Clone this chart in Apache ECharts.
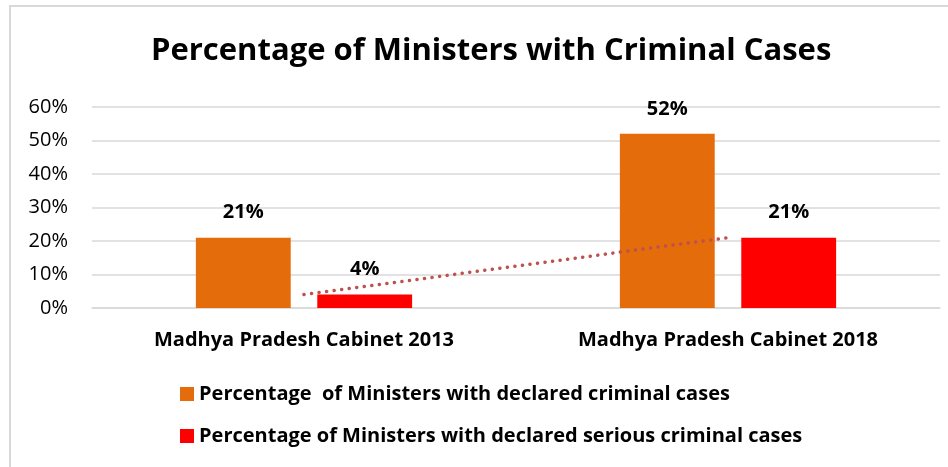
<!DOCTYPE html>
<html>
<head>
<meta charset="utf-8">
<script src="https://cdn.jsdelivr.net/npm/echarts@6/dist/echarts.min.js"></script>
<style>
  html, body { margin: 0; padding: 0; background: #fff; }
  .wrap { width: 948px; height: 467px; overflow: hidden; }
  #chart { box-sizing: border-box; border-left: 2px solid #d9d9d9; border-top: 2px solid #d9d9d9; margin-left: 9px; margin-top: 5px; }
</style>
</head>
<body>
<div class="wrap"><div id="chart" style="width:939px;height:462px"></div></div>
<script>
const categories = ['Madhya Pradesh Cabinet 2013', 'Madhya Pradesh Cabinet 2018']
const declaredCases = [21, 52]
const seriousCases = [4, 21]
const yTicks = [0, 10, 20, 30, 40, 50, 60]

const declaredName = 'Percentage  of Ministers with declared criminal cases'
const seriousName = 'Percentage of Ministers with declared serious criminal cases'
const fontFamily = '"Open Sans", Lato, sans-serif'

const chart = echarts.init(document.getElementById('chart'))

const labelStyle = {
  show: true,
  position: 'top',
  distance: 15,
  formatter: '{c}%',
  color: '#000',
  fontWeight: 'bold',
  fontSize: 20,
  fontFamily,
}

chart.setOption({
  animation: false,
  textStyle: { fontFamily },
  title: {
    text: 'Percentage of Ministers with Criminal Cases',
    left: 135,
    top: 24,
    textStyle: { fontSize: 31, fontWeight: 'bold', color: '#000', fontFamily },
  },
  legend: {
    orient: 'vertical',
    left: 164,
    top: 372,
    itemWidth: 14,
    itemHeight: 14,
    itemGap: 22,
    icon: 'rect',
    data: [declaredName, seriousName],
    textStyle: { fontSize: 20, fontWeight: 'bold', color: '#000', fontFamily },
  },
  grid: { left: 81, right: 8, top: 100, bottom: 159 },
  xAxis: {
    type: 'category',
    data: categories,
    axisTick: { show: false },
    axisLine: { lineStyle: { color: '#d9d9d9', width: 1.5 } },
    axisLabel: { color: '#000', fontSize: 20, fontWeight: 'bold', margin: 22, fontFamily },
  },
  yAxis: {
    type: 'value',
    min: yTicks[0],
    max: yTicks[yTicks.length - 1],
    interval: 10,
    axisLine: { show: false },
    axisTick: { show: false },
    axisLabel: { formatter: '{value}%', color: '#000', fontSize: 20, margin: 24, fontFamily },
    splitLine: { lineStyle: { color: '#d9d9d9', width: 1.5 } },
  },
  series: [
    {
      name: declaredName,
      type: 'bar',
      data: declaredCases,
      barGap: '28%',
      barCategoryGap: '49%',
      itemStyle: { color: '#e46c0a' },
      label: labelStyle,
    },
    {
      name: seriousName,
      type: 'bar',
      data: seriousCases,
      itemStyle: { color: '#ff0000' },
      label: labelStyle,
    },
    {
      name: 'Linear trend',
      type: 'line',
      data: seriousCases,
      symbol: 'none',
      silent: true,
      lineStyle: { color: '#c0504d', width: 3.5, type: [0.1, 7.5], cap: 'round' },
      z: 5,
    },
  ],
})
</script>
</body>
</html>
